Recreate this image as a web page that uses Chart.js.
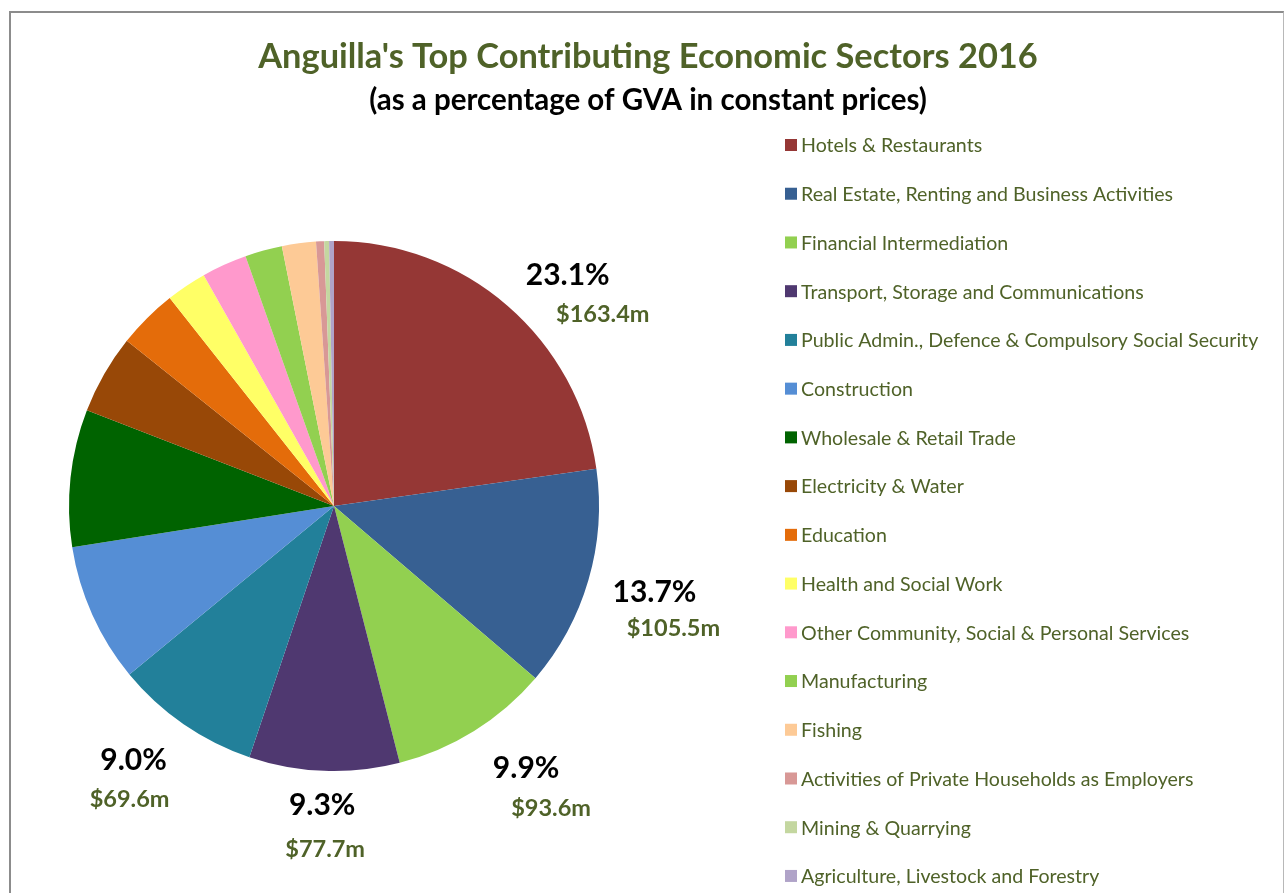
<!DOCTYPE html>
<html><head><meta charset="utf-8">
<script src="https://cdn.jsdelivr.net/npm/chart.js@4.4.1/dist/chart.umd.min.js"></script>
<style>
html,body{margin:0;padding:0;background:#fff;overflow:hidden;}
#wrap{position:relative;width:1285px;height:893px;overflow:hidden;}
#frame{position:absolute;left:9px;top:11px;width:1272px;height:920px;border-top:2px solid #8c8c8c;border-left:2px solid #8c8c8c;border-right:1px solid #b8b8b8;}
canvas{position:absolute;left:0;top:0;}
</style></head><body>
<div id="wrap"><div id="frame"></div><canvas id="c" width="1285" height="893"></canvas></div>
<script>
// ---- data ----
const categories = [
  'Hotels & Restaurants',
  'Real Estate, Renting and Business Activities',
  'Financial Intermediation',
  'Transport, Storage and Communications',
  'Public Admin., Defence & Compulsory Social Security',
  'Construction',
  'Wholesale & Retail Trade',
  'Electricity & Water',
  'Education',
  'Health and Social Work',
  'Other Community, Social & Personal Services',
  'Manufacturing',
  'Fishing',
  'Activities of Private Households as Employers',
  'Mining & Quarrying',
  'Agriculture, Livestock and Forestry'
];
const shares = [23.1, 13.7, 9.9, 9.3, 9.0, 8.6, 8.5, 4.9, 3.7, 2.5, 2.8, 2.3, 2.1, 0.5, 0.3, 0.3];
const percentLabels = ['23.1%', '13.7%', '9.9%', '9.3%', '9.0%'];
const valueLabels = ['$163.4m', '$105.5m', '$93.6m', '$77.7m', '$69.6m'];

// ---- styles ----
const sliceColors = ['#953735','#376092','#92D050','#4F3870','#22809A','#558ED5','#006300','#984807',
  '#E46C0A','#FFFF66','#FF99CC','#92D050','#FDCA96','#D89896','#C4D7A0','#B0A3C8'];
const FONT = 'Lato, "Open Sans", "Liberation Sans", sans-serif';
const OLIVE = '#4F6228';

// right-hand legend drawn in its own layout box
const sideLegendPlugin = {
  id: 'sideLegend',
  beforeInit(chart, args, opts) {
    const box = {
      position: 'right', weight: 1000, fullSize: false, options: {},
      left: 0, top: 0, right: 0, bottom: 0, width: 0, height: 0,
      cfg: opts,
      isHorizontal() { return false; },
      update(maxWidth, maxHeight) { this.width = this.cfg.width; this.height = maxHeight; },
      draw() {
        const c = this.cfg, ctx = chart.ctx;
        const colors = chart.data.datasets[0].backgroundColor;
        ctx.save();
        ctx.font = c.fontSize + 'px ' + FONT;
        ctx.textBaseline = 'middle';
        ctx.textAlign = 'left';
        chart.data.labels.forEach((lab, i) => {
          const y = c.firstY + i * c.spacing;
          const x = this.left + c.inset;
          ctx.fillStyle = colors[i];
          ctx.fillRect(x, y - c.box / 2, c.box, c.box);
          ctx.fillStyle = c.color;
          ctx.fillText(lab, x + c.box + c.gap, y + 1);
        });
        ctx.restore();
      }
    };
    chart.$sideBox = box;
    Chart.layouts.addBox(chart, box);
  },
  beforeUpdate(chart, args, opts) { if (chart.$sideBox) chart.$sideBox.cfg = opts; }
};

// outside labels for the five largest slices
const sliceLabelPlugin = {
  id: 'sliceLabels',
  afterDatasetsDraw(chart, args, opts) {
    const meta = chart.getDatasetMeta(0);
    const ctx = chart.ctx;
    ctx.save();
    ctx.textAlign = 'center';
    ctx.textBaseline = 'middle';
    percentLabels.forEach((txt, i) => {
      const p = meta.data[i].getProps(['x','y','startAngle','endAngle','outerRadius'], true);
      const mid = (p.startAngle + p.endAngle) / 2;
      const ax = p.x + Math.cos(mid) * p.outerRadius;
      const ay = p.y + Math.sin(mid) * p.outerRadius;
      const po = opts.pctOffsets[i], vo = opts.valOffsets[i];
      ctx.font = 'bold ' + opts.pctSize + 'px ' + FONT;
      ctx.fillStyle = '#000';
      ctx.fillText(txt, ax + po[0], ay + po[1]);
      ctx.font = 'bold ' + opts.valSize + 'px ' + FONT;
      ctx.fillStyle = OLIVE;
      ctx.fillText(valueLabels[i], ax + vo[0], ay + vo[1]);
    });
    ctx.restore();
  }
};

new Chart(document.getElementById('c'), {
  type: 'pie',
  data: {
    labels: categories,
    datasets: [{ data: shares, backgroundColor: sliceColors, borderWidth: 0 }]
  },
  options: {
    responsive: false,
    animation: false,
    events: [],
    layout: { padding: { left: 69, right: 58, top: 0, bottom: 122 } },
    plugins: {
      legend: { display: false },
      tooltip: { enabled: false },
      title: {
        display: true,
        text: "Anguilla's Top Contributing Economic Sectors 2016",
        color: OLIVE,
        font: { family: FONT, size: 34.4, weight: 'bold', lineHeight: '40px' },
        padding: { top: 37, bottom: 0 }
      },
      subtitle: {
        display: true,
        text: '(as a percentage of GVA in constant prices)',
        color: '#000',
        font: { family: FONT, size: 29.5, weight: 'bold', lineHeight: '30px' },
        padding: { top: 8, bottom: 126 }
      },
      sideLegend: { width: 628, inset: 186, firstY: 145, spacing: 48.73, box: 12, gap: 4, fontSize: 19.6, color: OLIVE },
      sliceLabels: {
        pctSize: 30, valSize: 23.5,
        pctOffsets: [[60,-31],[66,12],[52,37],[-2,35],[-50,36]],
        valOffsets: [[95,9],[85,48],[77,77],[1,79],[-54,75]]
      }
    }
  },
  plugins: [sideLegendPlugin, sliceLabelPlugin]
});
</script>
</body></html>
